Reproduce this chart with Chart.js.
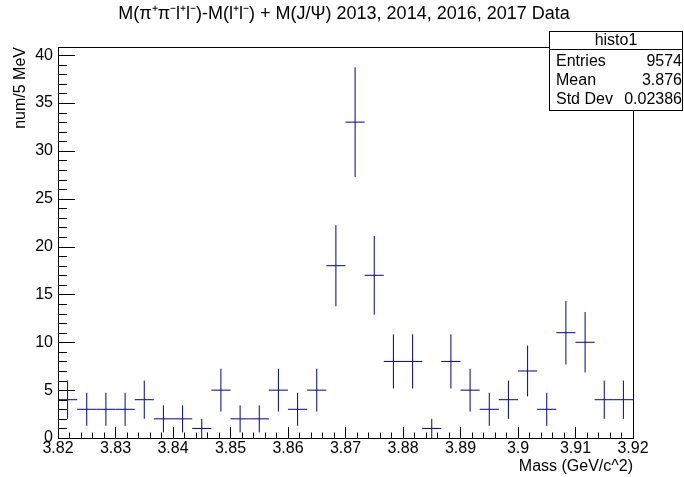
<!DOCTYPE html>
<html>
<head>
<meta charset="utf-8">
<script src="https://cdn.jsdelivr.net/npm/chart.js@4"></script>
<style>
  html, body { margin: 0; padding: 0; background: #fff; }
</style>
</head>
<body>
<canvas id="myChart" width="684" height="477"></canvas>
<script>
const ctx = document.getElementById('myChart');

// histogram bins (GeV), 30 bins between 3.82 and 3.92
let binCenters = [3.82167, 3.825, 3.82833, 3.83167, 3.835, 3.83833, 3.84167, 3.845, 3.84833, 3.85167,
                  3.855, 3.85833, 3.86167, 3.865, 3.86833, 3.87167, 3.875, 3.87833, 3.88167, 3.885,
                  3.88833, 3.89167, 3.895, 3.89833, 3.90167, 3.905, 3.90833, 3.91167, 3.915, 3.91833];
let binHalfWidth = 0.001667;
let counts = [4, 3, 3, 3, 4, 2, 2, 1, 5, 2,
              2, 5, 3, 5, 18, 33, 17, 8, 8, 1,
              8, 5, 3, 4, 7, 3, 11, 10, 4, 4];
let errors = [2, 1.73, 1.73, 1.73, 2, 1.41, 1.41, 1, 2.24, 1.41,
              1.41, 2.24, 1.73, 2.24, 4.24, 5.74, 4.12, 2.83, 2.83, 1,
              2.83, 2.24, 1.73, 2, 2.65, 1.73, 3.32, 3.16, 2, 2];

let statLabels = ['Entries', 'Mean', 'Std Dev'];
let statValues = ['9574', '3.876', '0.02386'];
let chartTitle = 'M(π⁺π⁻l⁺l⁻)-M(l⁺l⁻) + M(J/Ψ) 2013, 2014, 2016, 2017 Data';

const FONT = 'Liberation Sans, Arial, Helvetica, sans-serif';
const BLUE = '#000099';

const errorBars = {
  id: 'errorBars',
  afterDatasetsDraw(chart) {
    const c = chart.ctx, x = chart.scales.x, y = chart.scales.y;
    c.save();
    c.strokeStyle = BLUE;
    c.lineWidth = 1;
    c.beginPath();
    binCenters.forEach((bc, i) => {
      const px = x.getPixelForValue(bc);
      const py = y.getPixelForValue(counts[i]);
      c.moveTo(x.getPixelForValue(bc - binHalfWidth), py);
      c.lineTo(x.getPixelForValue(bc + binHalfWidth), py);
      c.moveTo(px, y.getPixelForValue(counts[i] - errors[i]));
      c.lineTo(px, y.getPixelForValue(counts[i] + errors[i]));
    });
    c.stroke();
    c.restore();
  }
};

// ROOT style frame, inward ticks, title and stats box
const rootFrame = {
  id: 'rootFrame',
  afterDraw(chart) {
    const c = chart.ctx, a = chart.chartArea, x = chart.scales.x, y = chart.scales.y;
    c.save();
    c.strokeStyle = '#000';
    c.lineWidth = 1;
    c.strokeRect(Math.round(a.left) + 0.5, Math.round(a.top) + 0.5,
                 Math.round(a.right - a.left), Math.round(a.bottom - a.top));
    c.beginPath();
    for (let k = 0; k <= 50; k++) {
      const v = 3.82 + k * 0.002;
      const px = Math.round(x.getPixelForValue(v)) + 0.5;
      const len = (k % 5 === 0) ? 11 : 5.5;
      c.moveTo(px, a.bottom);
      c.lineTo(px, a.bottom - len);
    }
    for (let v = 0; v <= 40; v++) {
      const py = Math.round(y.getPixelForValue(v)) + 0.5;
      const len = (v % 5 === 0) ? 17 : 9;
      c.moveTo(a.left, py);
      c.lineTo(a.left + len, py);
    }
    c.stroke();

    c.fillStyle = '#000';
    c.font = '18px ' + FONT;
    c.textAlign = 'center';
    c.textBaseline = 'middle';
    c.fillText(chartTitle, 344, 14);

    // stats box
    const bx = 549.5, by = 31.5, bw = 133, bh = 79;
    c.fillStyle = '#fff';
    c.fillRect(bx, by, bw, bh);
    c.strokeRect(bx, by, bw, bh);
    c.beginPath();
    c.moveTo(bx, 49.5);
    c.lineTo(bx + bw, 49.5);
    c.stroke();
    c.fillStyle = '#000';
    c.font = '16px ' + FONT;
    c.textAlign = 'center';
    c.fillText('histo1', bx + bw / 2, 41);
    statLabels.forEach((lab, i) => {
      const ty = 62 + i * 19;
      c.textAlign = 'left';
      c.fillText(lab, 556, ty);
      c.textAlign = 'right';
      c.fillText(statValues[i], 682, ty);
    });
    c.restore();
  }
};

new Chart(ctx, {
  type: 'scatter',
  data: {
    datasets: [{
      label: 'histo1',
      data: binCenters.map((bc, i) => ({ x: bc, y: counts[i] })),
      pointRadius: 0,
      pointHoverRadius: 0,
      showLine: false
    }]
  },
  options: {
    responsive: false,
    animation: false,
    devicePixelRatio: 1,
    layout: { padding: { top: 47, right: 51, bottom: 0, left: 0 } },
    plugins: {
      legend: { display: false },
      tooltip: { enabled: false },
      title: { display: false }
    },
    scales: {
      x: {
        type: 'linear',
        min: 3.82,
        max: 3.92,
        afterFit: s => { s.height = 39; },
        grid: { display: false, drawTicks: false },
        border: { display: false },
        ticks: {
          stepSize: 0.01,
          includeBounds: false,
          autoSkip: false,
          maxRotation: 0,
          padding: 1,
          color: '#000',
          font: { family: FONT, size: 16 },
          callback: v => String(Number(v.toFixed(2)))
        },
        title: {
          display: true,
          text: 'Mass (GeV/c^2)',
          align: 'end',
          color: '#000',
          font: { family: FONT, size: 16 },
          padding: { top: 0, bottom: 1 }
        }
      },
      y: {
        min: 0,
        max: 40.85,
        afterFit: s => { s.width = 58; },
        grid: { display: false, drawTicks: false },
        border: { display: false },
        ticks: {
          stepSize: 5,
          includeBounds: false,
          padding: 5,
          color: '#000',
          font: { family: FONT, size: 16 }
        },
        title: {
          display: true,
          text: 'num/5 MeV',
          align: 'end',
          color: '#000',
          font: { family: FONT, size: 16 },
          padding: { top: 11 }
        }
      }
    }
  },
  plugins: [errorBars, rootFrame]
});
</script>
</body>
</html>
